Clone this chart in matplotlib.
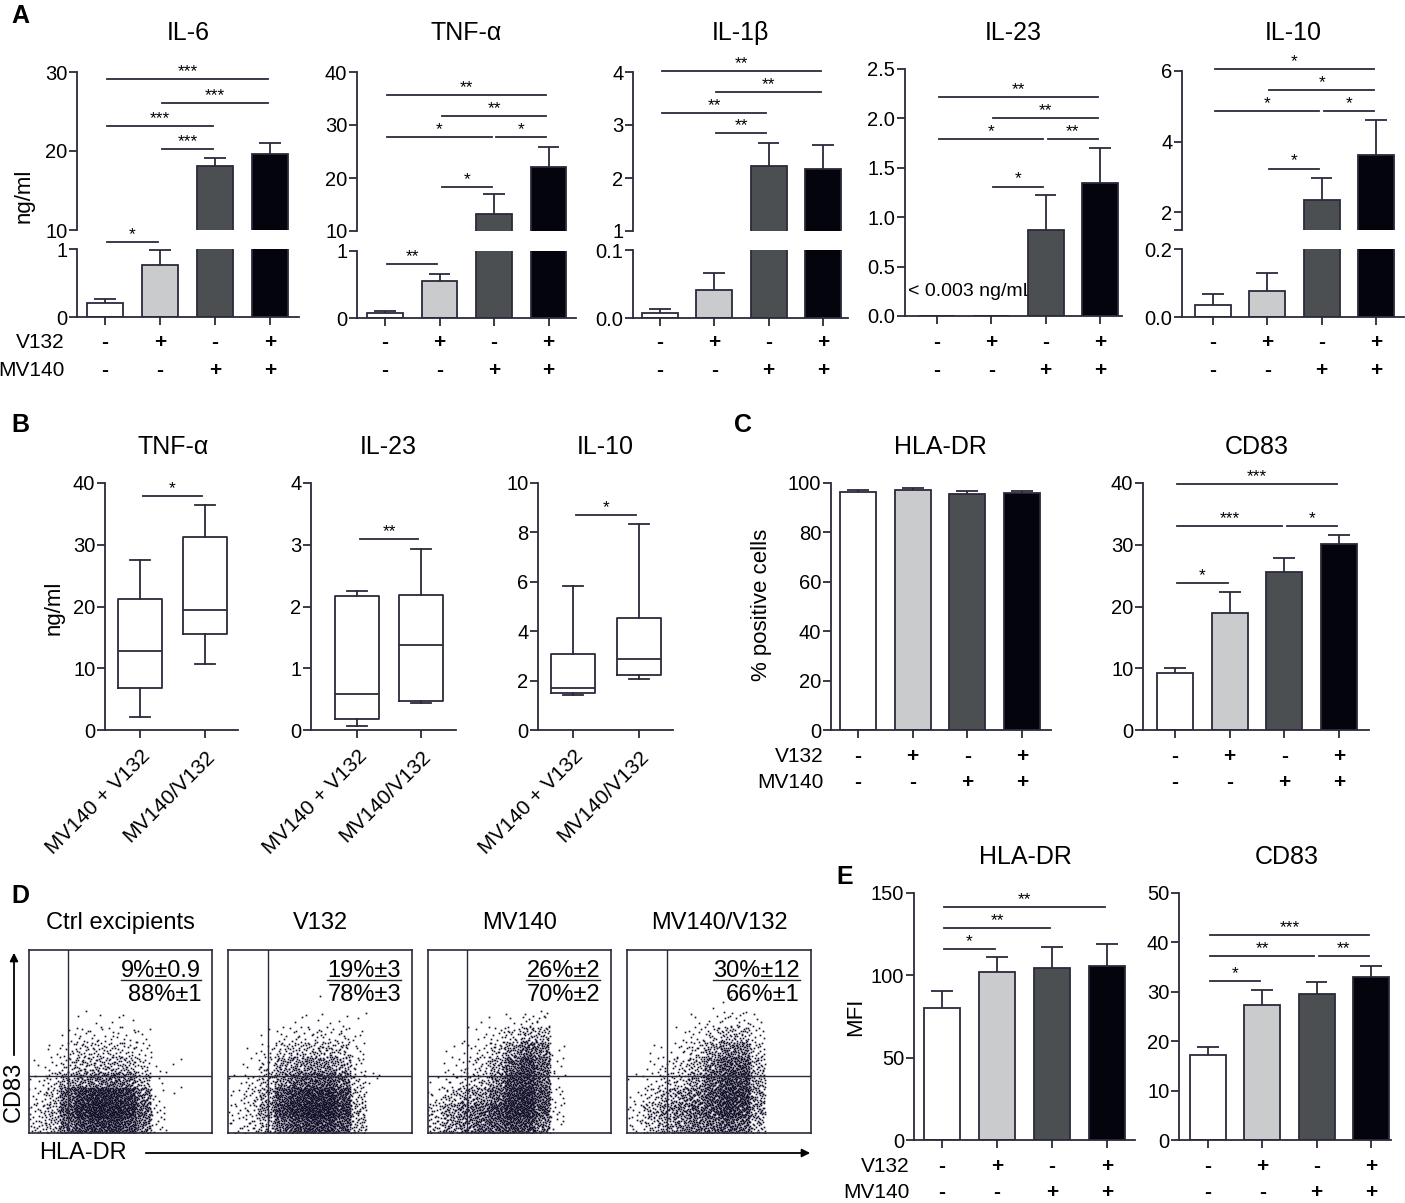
import numpy as np
import matplotlib
matplotlib.use('Agg')
import matplotlib.pyplot as plt

# ---------------- data ----------------
V132 = [0, 1, 0, 1]
MV140 = [0, 0, 1, 1]

# panel A  (mean, sem) ng/ml
il6_mean = [0.20, 0.76, 18.1, 19.6]
il6_err = [0.06, 0.23, 1.0, 1.4]
tnf_mean = [0.075, 0.55, 13.2, 22.1]
tnf_err = [0.025, 0.11, 3.8, 3.7]
il1b_mean = [0.008, 0.041, 2.23, 2.17]
il1b_err = [0.005, 0.025, 0.43, 0.45]
il23_mean = [0.0, 0.0, 0.87, 1.35]
il23_err = [0.0, 0.0, 0.35, 0.35]
il10_mean = [0.035, 0.077, 2.34, 3.63]
il10_err = [0.033, 0.053, 0.62, 0.97]

il6_sig_up = [(0, 3, 29.1, '***'), (1, 3, 26.1, '***'), (0, 2, 23.2, '***'), (1, 2, 20.3, '***')]
il6_sig_lo = [(0, 1, 1.10, '*')]
tnf_sig_up = [(0, 3, 35.7, '**'), (1, 3, 31.7, '**'), (0, 2, 27.7, '*'), (2, 3, 27.7, '*'), (1, 2, 18.3, '*')]
tnf_sig_lo = [(0, 1, 0.81, '**')]
il1b_sig = [(0, 3, 4.02, '**'), (1, 3, 3.62, '**'), (0, 2, 3.23, '**'), (1, 2, 2.85, '**')]
il23_sig = [(0, 3, 2.22, '**'), (1, 3, 2.0, '**'), (0, 2, 1.79, '*'), (2, 3, 1.79, '**'), (1, 2, 1.31, '*')]
il10_sig = [(0, 3, 6.05, '*'), (1, 3, 5.46, '*'), (0, 2, 4.87, '*'), (2, 3, 4.87, '*'), (1, 2, 3.24, '*')]

# panel B  box plots: (whislo, q1, med, q3, whishi)
box_groups = ['MV140 + V132', 'MV140/V132']
tnf_box = [(2.1, 6.8, 12.8, 21.2, 27.5), (10.7, 15.5, 19.4, 31.3, 36.4)]
il23_box = [(0.07, 0.18, 0.59, 2.17, 2.25), (0.44, 0.47, 1.38, 2.18, 2.93)]
il10_box = [(1.42, 1.5, 1.71, 3.07, 5.85), (2.07, 2.24, 2.89, 4.55, 8.33)]
tnf_box_sig = (37.9, '*')
il23_box_sig = (3.09, '**')
il10_box_sig = (8.7, '*')

# panel C  % positive cells
hla_pct = [96.5, 97.3, 95.7, 95.9]
hla_pct_err = [0.8, 0.6, 1.0, 0.9]
cd83_pct = [9.2, 18.9, 25.6, 30.1]
cd83_pct_err = [0.8, 3.4, 2.2, 1.5]
cd83_pct_sig = [(0, 3, 39.8, '***'), (0, 2, 33.0, '***'), (2, 3, 33.0, '*'), (0, 1, 23.8, '*')]

# panel E  MFI
hla_mfi = [80.2, 102.0, 104.5, 105.6]
hla_mfi_err = [10.3, 9.0, 12.5, 13.4]
hla_mfi_sig = [(0, 3, 141.5, '**'), (0, 2, 128.7, '**'), (0, 1, 116.0, '*')]
cd83_mfi = [17.2, 27.3, 29.6, 33.0]
cd83_mfi_err = [1.6, 3.1, 2.4, 2.2]
cd83_mfi_sig = [(0, 3, 41.5, '***'), (0, 2, 37.2, '**'), (2, 3, 37.2, '**'), (0, 1, 32.2, '*')]

# panel D  flow cytometry: titles, quadrant numbers, event density per grid cell
flow_titles = ['Ctrl excipients', 'V132', 'MV140', 'MV140/V132']
flow_top = ['9%\u00b10.9', '19%\u00b13', '26%\u00b12', '30%\u00b112']
flow_bot = ['88%\u00b11', '78%\u00b13', '70%\u00b12', '66%\u00b11']
# 12 columns across the plot, rows from the bottom (each row 1/12 of the height)
cloud_ctrl = [
    [1, 2, 5, 7, 8, 8, 7, 4, 0.5, 0, 0, 0],
    [1, 2, 6, 9, 10, 10, 9, 5, 0.5, 0, 0, 0],
    [0.5, 1.5, 5, 8, 9, 9, 8, 4, 0.3, 0.1, 0, 0],
    [0.3, 1, 2.5, 3.5, 4, 4.5, 4, 2, 0.2, 0, 0, 0],
    [0.1, 0.4, 1, 2, 2, 2, 2, 1, 0.1, 0.1, 0, 0],
    [0, 0.2, 0.6, 1.2, 1.2, 1.2, 1.0, 0.6, 0, 0, 0, 0],
    [0, 0, 0.2, 0.5, 0.5, 0.5, 0.4, 0.3, 0, 0, 0, 0],
    [0, 0, 0, 0.1, 0.1, 0.1, 0.1, 0, 0, 0, 0, 0],
]
cloud_v132 = [
    [0.5, 1, 2, 5, 7, 8, 8, 6, 2, 0, 0, 0],
    [0.5, 1, 3, 7, 9, 10, 10, 8, 2, 0, 0, 0],
    [0.3, 1, 2.5, 6, 8, 9, 9, 7, 1.5, 0, 0, 0],
    [0.2, 0.5, 1.5, 3.5, 5, 6, 6, 4.5, 1, 0.3, 0, 0],
    [0, 0.3, 1, 2.5, 3, 3.5, 3.5, 2.5, 0.6, 0, 0, 0],
    [0, 0.1, 0.4, 1.2, 1.6, 1.8, 1.8, 1.4, 0.4, 0, 0, 0],
    [0, 0, 0.1, 0.4, 0.6, 0.6, 0.6, 0.6, 0.3, 0, 0, 0],
    [0, 0, 0, 0, 0.1, 0.1, 0.1, 0.2, 0.1, 0, 0, 0],
    [0, 0, 0, 0, 0, 0, 0.05, 0, 0, 0, 0, 0],
]
cloud_mv140 = [
    [1.5, 3, 4, 5, 6, 7, 7, 4, 0.3, 0, 0, 0],
    [1.5, 3, 4, 5, 7, 9, 9, 6, 0.5, 0, 0, 0],
    [0.5, 1.5, 2.5, 3, 5, 8, 9, 6, 0.5, 0, 0, 0],
    [0.2, 0.5, 1, 1.5, 3.5, 7, 8, 5, 0.3, 0, 0, 0],
    [0, 0.3, 0.5, 1, 2.5, 5, 7, 5, 0.3, 0, 0, 0],
    [0, 0.1, 0.3, 0.5, 1.5, 3, 5, 4, 0.2, 0, 0, 0],
    [0, 0, 0.1, 0.3, 0.6, 1, 2, 2, 0, 0, 0, 0],
    [0, 0, 0, 0.1, 0, 0.2, 0.5, 0.5, 0, 0, 0, 0],
]
cloud_combo = [
    [0.5, 1.5, 2.5, 3.5, 4.5, 5, 6, 5, 2, 0, 0, 0],
    [0.5, 2, 3, 4, 5, 6, 8, 7, 3, 0, 0, 0],
    [0.3, 1, 2, 3, 4, 6, 8, 8, 3, 0, 0, 0],
    [0.1, 0.4, 1, 1.5, 3, 5, 7, 7, 2.5, 0, 0, 0],
    [0, 0.2, 0.5, 1, 2, 4, 6, 6, 2, 0, 0, 0],
    [0, 0.1, 0.2, 0.5, 1.2, 2.5, 4, 4, 1.2, 0, 0, 0],
    [0, 0, 0, 0.2, 0.5, 1, 1.8, 1.8, 0.6, 0, 0, 0],
    [0, 0, 0, 0, 0.2, 0.3, 0.5, 0.5, 0.3, 0, 0, 0],
    [0, 0, 0, 0, 0, 0.05, 0.1, 0, 0, 0, 0, 0],
]
clouds = [cloud_ctrl, cloud_v132, cloud_mv140, cloud_combo]

# ---------------- style ----------------
plt.rcParams['font.family'] = ['Liberation Sans', 'DejaVu Sans']

INK = '#2b2a3c'
FILLS = ['white', '#cacbcc', '#4b4f52', '#04040c']
W, H = 1405, 1203
LW = 1.3

fig = plt.figure(figsize=(W / 100, H / 100), dpi=100)
ov = fig.add_axes([0, 0, 1, 1])
ov.set_xlim(0, W)
ov.set_ylim(H, 0)
ov.axis('off')


def px_ax(l, t, r, b):
    a = fig.add_axes([l / W, 1 - b / H, (r - l) / W, (b - t) / H])
    a.patch.set_alpha(0)
    return a


def style(ax, ylim, yticks, ylabels=None, bottom=True, n=4):
    ax.set_ylim(*ylim)
    for s in ['top', 'right']:
        ax.spines[s].set_visible(False)
    for s in ['left', 'bottom']:
        ax.spines[s].set_color(INK)
        ax.spines[s].set_linewidth(LW)
    ax.spines['bottom'].set_visible(bottom)
    ax.set_yticks(yticks)
    if ylabels is not None:
        ax.set_yticklabels(ylabels)
    ax.tick_params(axis='y', length=6, width=LW, color=INK, labelsize=14.5, pad=1)
    if bottom:
        ax.set_xticks(range(n))
        ax.set_xticklabels([])
        ax.tick_params(axis='x', length=6, width=LW, color=INK)
    else:
        ax.set_xticks([])


def geom(ax, left, right, c0, sp):
    ax.set_xlim((left - c0) / sp, (right - c0) / sp)


def bars(ax, mean, err):
    xs = np.arange(4)
    m = np.array(mean)
    e = np.array(err)
    ax.bar(xs, m, width=0.66, color=FILLS, edgecolor=INK, linewidth=LW, zorder=2)
    ok = e > 0
    ax.vlines(xs[ok], m[ok], m[ok] + e[ok], color=INK, lw=LW, zorder=3)
    ax.hlines((m + e)[ok], xs[ok] - 0.2, xs[ok] + 0.2, color=INK, lw=LW, zorder=3)


def sig(ax, items):
    for i, j, y, s in items:
        ax.plot([i + 0.04, j - 0.04], [y, y], color=INK, lw=LW, clip_on=False)
        ax.annotate(s, ((i + j) / 2, y), xytext=(0, 0), textcoords='offset points',
                    ha='center', va='bottom', fontsize=12.5, annotation_clip=False)


def pm_rows(c0, sp, y1, y2, lab_x=None):
    for i in range(4):
        ov.text(c0 + sp * i, y1, '+' if V132[i] else '-', ha='center', va='center',
                fontsize=15, fontweight='bold')
        ov.text(c0 + sp * i, y2, '+' if MV140[i] else '-', ha='center', va='center',
                fontsize=15, fontweight='bold')
    if lab_x is not None:
        ov.text(lab_x, y1, 'V132', ha='right', va='center', fontsize=15)
        ov.text(lab_x, y2, 'MV140', ha='right', va='center', fontsize=15)


def title(x, y, s):
    ov.text(x, y, s, ha='center', va='center', fontsize=18)


def letter(x, y, s):
    ov.text(x, y, s, ha='center', va='center', fontsize=18, fontweight='bold')


def broken(left, right, c0, sp, up, lo, up_lim, lo_lim, up_ticks, lo_ticks,
           mean, err, sig_up, sig_lo, up_labels=None, lo_labels=None):
    au = px_ax(left, up[0], right, up[1])
    al = px_ax(left, lo[0], right, lo[1])
    for a in (au, al):
        geom(a, left, right, c0, sp)
        bars(a, mean, err)
    style(au, up_lim, up_ticks, up_labels, bottom=False)
    style(al, lo_lim, lo_ticks, lo_labels, bottom=True)
    sig(au, sig_up)
    sig(al, sig_lo)
    return au, al


# ---------------- panel A ----------------
letter(20, 16, 'A')
broken(77, 299, 105, 55, (72, 230), (249, 317), (10, 30), (0, 1), [10, 20, 30], [0, 1],
       il6_mean, il6_err, il6_sig_up, il6_sig_lo)
title(188, 33, 'IL-6')
ov.text(24, 196, 'ng/ml', rotation=90, ha='center', va='center', fontsize=16)
pm_rows(105, 55, 343, 370, lab_x=65)

broken(357, 576, 385, 54.5, (72, 231), (251, 318), (10, 40), (0, 1), [10, 20, 30, 40], [0, 1],
       tnf_mean, tnf_err, tnf_sig_up, tnf_sig_lo)
title(466, 33, 'TNF-\u03b1')
pm_rows(385, 54.5, 343, 370)

broken(633, 848, 660, 54.3, (72, 231), (250, 318), (1, 4), (0, 0.1), [1, 2, 3, 4], [0, 0.1],
       il1b_mean, il1b_err, il1b_sig, [], lo_labels=['0.0', '0.1'])
title(740, 33, 'IL-1\u03b2')
pm_rows(660, 54.3, 343, 370)

a23 = px_ax(905, 69, 1122, 316)
geom(a23, 905, 1122, 937, 54.3)
bars(a23, il23_mean, il23_err)
style(a23, (0, 2.5), [0, 0.5, 1, 1.5, 2, 2.5], ['0.0', '0.5', '1.0', '1.5', '2.0', '2.5'])
sig(a23, il23_sig)
ov.text(908, 292, '< 0.003 ng/mL', ha='left', va='center', fontsize=14)
title(1013, 33, 'IL-23')
pm_rows(937, 54.3, 343, 370)

broken(1182, 1404, 1213, 54.3, (71, 230), (249, 317), (1.5, 6), (0, 0.2), [1.5, 2, 4, 6], [0, 0.2],
       il10_mean, il10_err, il10_sig, [], up_labels=['', '2', '4', '6'], lo_labels=['0.0', '0.2'])
title(1293, 33, 'IL-10')
pm_rows(1213, 54.3, 343, 370)

# ---------------- panel B ----------------
letter(20, 425, 'B')


def box_panel(left, right, c0, sp, lim, ticks, data, sg, name, tx):
    ax = px_ax(left, 483, right, 730)
    stats = [dict(whislo=d[0], q1=d[1], med=d[2], q3=d[3], whishi=d[4], fliers=[]) for d in data]
    pr = dict(color=INK, lw=LW)
    ax.bxp(stats, positions=[0, 1], widths=0.68, showfliers=False, boxprops=pr,
           medianprops=pr, whiskerprops=pr, capprops=pr, capwidths=0.3)
    style(ax, lim, ticks, n=2)
    ax.set_xticks([0, 1])
    ax.set_xticklabels(box_groups, rotation=45, ha='right', rotation_mode='anchor', fontsize=15)
    ax.tick_params(axis='x', pad=6)
    geom(ax, left, right, c0, sp)
    sig(ax, [(0, 1, sg[0], sg[1])])
    title(tx, 447, name)
    return ax


box_panel(105, 238, 140, 65, (0, 40), [0, 10, 20, 30, 40], tnf_box, tnf_box_sig, 'TNF-\u03b1', 173)
ov.text(54, 608, 'ng/ml', rotation=90, ha='center', va='center', fontsize=16)
box_panel(311, 456, 357, 64, (0, 4), [0, 1, 2, 3, 4], il23_box, il23_box_sig, 'IL-23', 388)
box_panel(538, 673, 573, 66, (0, 10), [0, 2, 4, 6, 8, 10], il10_box, il10_box_sig, 'IL-10', 605)

# ---------------- panel C ----------------
letter(743, 425, 'C')
ac1 = px_ax(831, 483, 1051, 730)
geom(ac1, 831, 1051, 858, 54.7)
bars(ac1, hla_pct, hla_pct_err)
style(ac1, (0, 100), [0, 20, 40, 60, 80, 100])
title(940, 447, 'HLA-DR')
ov.text(761, 605, '% positive cells', rotation=90, ha='center', va='center', fontsize=16)
pm_rows(858, 54.7, 757, 783, lab_x=824)

ac2 = px_ax(1143, 483, 1369, 730)
geom(ac2, 1143, 1369, 1175, 54.7)
bars(ac2, cd83_pct, cd83_pct_err)
style(ac2, (0, 40), [0, 10, 20, 30, 40])
sig(ac2, cd83_pct_sig)
title(1257, 447, 'CD83')
pm_rows(1175, 54.7, 757, 783)

# ---------------- panel D ----------------
letter(20, 896, 'D')
boxes_x = [(29, 212), (228, 412), (428, 611), (627, 811)]
top_texts = []


def halton(i, b):
    f, r = 1.0, 0.0
    while i > 0:
        f /= b
        r += f * (i % b)
        i //= b
    return r


NC = 12
for k, (l, r) in enumerate(boxes_x):
    ax = px_ax(l, 950, r, 1133)
    ax.set_xlim(0, 1)
    ax.set_ylim(0, 1)
    ax.set_xticks([])
    ax.set_yticks([])
    for s in ax.spines.values():
        s.set_color(INK)
        s.set_linewidth(1.2)
    xs, ys = [], []
    for ri, row in enumerate(clouds[k]):
        for ci, d in enumerate(row):
            n = int(round(d * 15))
            start = (ri * NC + ci) * 157 + k * 1777 + 1
            for q in range(n):
                xs.append((ci + halton(start + q, 2)) / NC)
                ys.append((ri + halton(start + q, 3)) / NC)
    ax.plot(xs, ys, 's', ms=1.2, mew=0, color='#14112a')
    ax.axvline(0.215, color=INK, lw=1.0)
    ax.axhline(0.31, color=INK, lw=1.0)
    t = ax.text(0.94, 0.885, flow_top[k], transform=ax.transAxes, ha='right', va='center', fontsize=17)
    top_texts.append(t)
    ax.text(0.94, 0.755, flow_bot[k], transform=ax.transAxes, ha='right', va='center', fontsize=17)
    ov.text((l + r) / 2, 923, flow_titles[k], ha='center', va='center', fontsize=17)

ov.text(14, 1092, 'CD83', rotation=90, ha='center', va='center', fontsize=17)
ov.annotate('', xy=(14, 950), xytext=(14, 1058),
            arrowprops=dict(arrowstyle='-|>', color='black', lw=1.3, mutation_scale=12))
ov.text(39, 1153, 'HLA-DR', ha='left', va='center', fontsize=17)
ov.annotate('', xy=(813, 1153), xytext=(143, 1153),
            arrowprops=dict(arrowstyle='-|>', color='black', lw=1.3, mutation_scale=12))

# ---------------- panel E ----------------
letter(845, 877, 'E')
ae1 = px_ax(914, 893, 1135, 1140)
geom(ae1, 914, 1135, 942, 55)
bars(ae1, hla_mfi, hla_mfi_err)
style(ae1, (0, 150), [0, 50, 100, 150])
sig(ae1, hla_mfi_sig)
title(1025, 857, 'HLA-DR')
ov.text(856, 1017, 'MFI', rotation=90, ha='center', va='center', fontsize=16)
pm_rows(942, 55, 1167, 1192, lab_x=910)

ae2 = px_ax(1179, 893, 1391, 1140)
geom(ae2, 1179, 1391, 1208, 54.3)
bars(ae2, cd83_mfi, cd83_mfi_err)
style(ae2, (0, 50), [0, 10, 20, 30, 40, 50])
sig(ae2, cd83_mfi_sig)
title(1287, 857, 'CD83')
pm_rows(1208, 54.3, 1167, 1192)

# underline the CD83+ percentages
fig.canvas.draw()
inv = ov.transData.inverted()
for t in top_texts:
    bb = t.get_window_extent()
    (x0, y0), (x1, y1) = inv.transform([(bb.x0, bb.y0), (bb.x1, bb.y1)])
    ov.plot([x0, x1], [y0 - 2, y0 - 2], color='#222222', lw=1.0)

fig.savefig('out.png', dpi=100)
